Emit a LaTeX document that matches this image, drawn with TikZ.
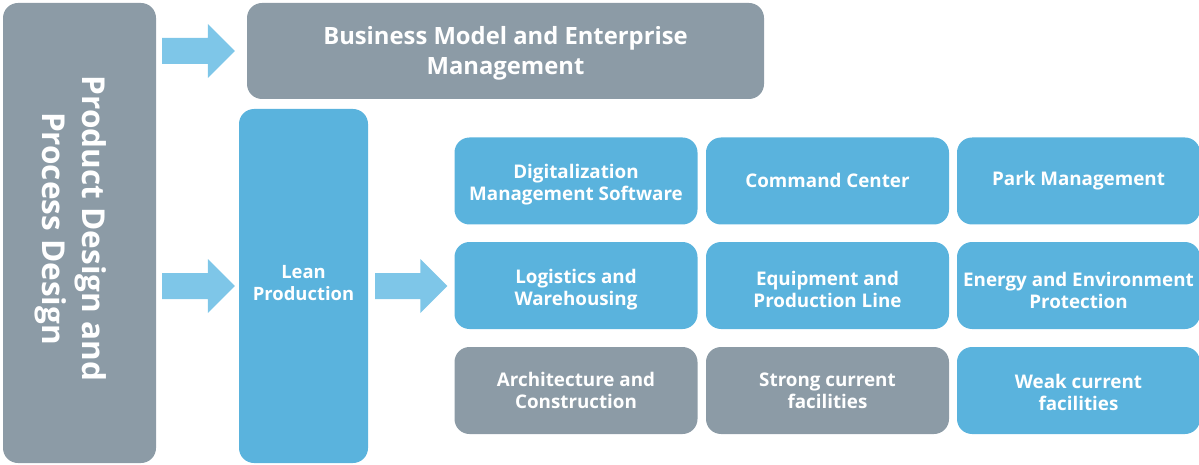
\documentclass[tikz,border=0pt]{standalone}
\usepackage{fontspec}
\setmainfont{Open Sans}
\usetikzlibrary{calc}
\definecolor{boxgray}{HTML}{8C9BA6}
\definecolor{boxblue}{HTML}{5AB3DD}
\definecolor{arrblue}{HTML}{7EC6E8}
\tikzset{
  panel/.style={rectangle, rounded corners=15pt, inner sep=0pt, text=white, align=center, font=\bfseries},
  graybox/.style={panel, fill=boxgray},
  bluebox/.style={panel, fill=boxblue},
  cell/.style={minimum width=243pt, minimum height=87pt},
  celltext/.style={text=white, align=center, inner sep=0pt, font=\fontsize{18.8}{22}\selectfont\bfseries},
  arrowfill/.style={fill=arrblue},
}
\newcommand\blockarr[2]{%
  \fill[arrowfill] ($(#1)+(0,-13)$) -- ($(#2)+(-27,-13)$) -- ($(#2)+(-27,-27)$) -- (#2)
    -- ($(#2)+(-27,27)$) -- ($(#2)+(-27,13)$) -- ($(#1)+(0,13)$) -- cycle;}
% #1 name, #2 box style, #3 position, #4 vertical text offset, #5 text
\newcommand\gridcell[5]{%
  \node[#2, cell] (#1) at (#3) {};
  \node[celltext] (#1t) at ($(#1.center)+(0,#4)$) {#5};}
\begin{document}
\begin{tikzpicture}[x=1pt, y=-1pt]
\useasboundingbox (0,0) rectangle (1199,465);
% left tall box
\node[graybox, minimum width=153pt, minimum height=460pt] (PD) at (79.5,233) {};
\node[text=white, font=\fontsize{31.5}{40}\selectfont\bfseries, align=center, rotate=-90] (PDt) at (71,228.5) {Product Design and\\Process Design};
% business model
\node[graybox, minimum width=517pt, minimum height=96pt] (BM) at (505.5,51) {};
\node[text=white, align=center, font=\fontsize{23.8}{30}\selectfont\bfseries] (BMt) at ($(BM.center)+(0,2)$) {Business Model and Enterprise\\Management};
% lean production
\node[bluebox, minimum width=129pt, minimum height=354pt] (LP) at (303.5,286) {};
\node[text=white, font=\fontsize{18.4}{22}\selectfont\bfseries, align=center] (LPt) at (303.5,283) {Lean\\Production};
% grid
\gridcell{c11}{bluebox}{576,181}{4}{Digitalization\\Management Software}
\gridcell{c12}{bluebox}{827.5,181}{-1}{Command Center}
\gridcell{c13}{bluebox}{1078.5,181}{0}{Park Management}
\gridcell{c21}{bluebox}{576,285.5}{4}{Logistics and\\Warehousing}
\gridcell{c22}{bluebox}{827.5,285.5}{4}{Equipment and\\Production Line}
\gridcell{c23}{bluebox}{1078.5,285.5}{5}{Energy and Environment\\Protection}
\gridcell{c31}{graybox}{576,390.5}{0}{Architecture and\\Construction}
\gridcell{c32}{graybox}{827.5,390.5}{0}{Strong current\\facilities}
\gridcell{c33}{bluebox}{1078.5,390.5}{2}{Weak current\\facilities}
% arrows
\coordinate (a1s) at ($(PD.east|-BM.west)+(6,0)$);
\coordinate (a1e) at ($(BM.west)+(-12,0)$);
\coordinate (a2s) at ($(PD.east|-LP.center)+(6,0)$);
\coordinate (a2e) at ($(LP.west)+(-4,0)$);
\coordinate (a3s) at ($(LP.east)+(7,0)$);
\coordinate (a3e) at ($(c21.west|-LP.center)+(-7,0)$);
\blockarr{a1s}{a1e}
\blockarr{a2s}{a2e}
\blockarr{a3s}{a3e}
\end{tikzpicture}
\end{document}
